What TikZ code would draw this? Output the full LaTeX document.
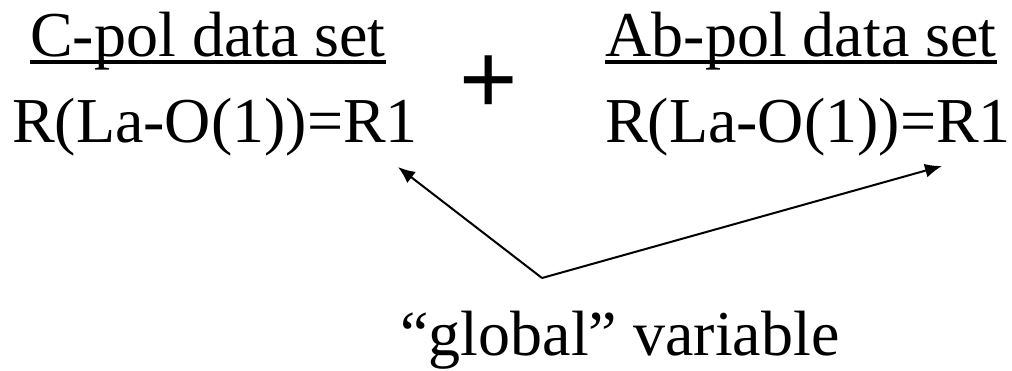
\documentclass[tikz,border=0pt]{standalone}
\usepackage{fontspec}
\setmainfont{Liberation Serif}
\newfontfamily\plusfont{Liberation Sans}
\usetikzlibrary{arrows.meta}
\tikzset{
  txt/.style={inner sep=0pt, font=\fontsize{64}{70}\selectfont},
  uline/.style={line width=3.5pt},
  arr/.style={line width=2pt, -{Latex[length=17pt,width=14pt]}},
}
\begin{document}
\begin{tikzpicture}[x=1pt,y=-1pt]
\useasboundingbox (0,0) rectangle (1012,370);
\node[txt, anchor=base] (h1) at (208,56) {C-pol data set};
\node[txt, anchor=base] (r1) at (215,142) {R(La-O(1))=R1};
\node[txt, anchor=base] (h2) at (801,56) {Ab-pol data set};
\node[txt, anchor=base] (r2) at (808,142) {R(La-O(1))=R1};
\node[inner sep=0pt, anchor=base, font=\plusfont\fontsize{100}{110}\selectfont] (plus) at (489,113) {+};
\node[txt, anchor=base] (g) at (620,355) {“global” variable};
\draw[uline] ([yshift=-6pt]h1.base west) -- ([yshift=-6pt]h1.base east);
\draw[uline] ([yshift=-6pt]h2.base west) -- ([yshift=-6pt]h2.base east);
\coordinate (v) at (542,278);
\coordinate (t1) at (398,167);
\coordinate (t2) at (942,166);
\draw[arr] (v) -- (t1);
\draw[arr] (v) -- (t2);
\end{tikzpicture}
\end{document}
